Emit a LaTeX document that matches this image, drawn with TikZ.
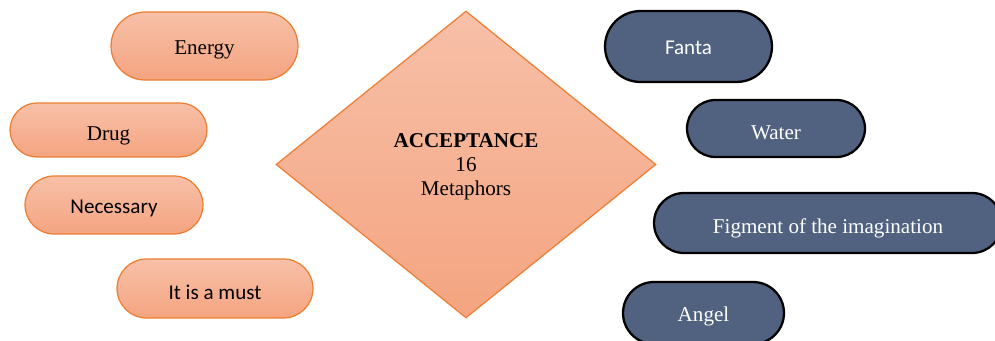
\documentclass[tikz,border=0pt]{standalone}
\usepackage{fontspec}
\setmainfont{Liberation Serif}
\newfontfamily\calibri{Carlito}
\usetikzlibrary{shapes.geometric,shapes.misc}

\definecolor{peachtop}{RGB}{247,192,168}
\definecolor{peachbot}{RGB}{244,164,128}
\definecolor{peachline}{RGB}{237,125,49}
\definecolor{slate}{RGB}{80,98,128}

\tikzset{
	peach/.style={draw=peachline, line width=0.7pt, top color=peachtop, bottom color=peachbot},
	pill/.style={rounded rectangle, inner sep=0pt, text depth=0pt, text height=10pt, font=\fontsize{12}{14}\selectfont},
	warm/.style={pill, peach},
	cool/.style={pill, draw=black, line width=1.3pt, fill=slate, text=white},
}

\begin{document}
\begin{tikzpicture}[x=0.02cm, y=-0.02cm]
		\useasboundingbox (0,0) rectangle (995,341);
		\clip (0,0) rectangle (995,341);

		% Draw the centre diamond
		\node[diamond, peach, minimum width=7.6cm, minimum height=6.14cm, inner sep=0pt, text depth=0pt,
			align=center, font=\fontsize{12}{13.6}\selectfont] (accept) at (466,164.5)
			{\textbf{ACCEPTANCE}\\16\\Metaphors};

		% Draw the pills on the left
		\node[warm, minimum width=3.74cm, minimum height=1.36cm] (energy) at (204.5,46) {Energy};
		\node[warm, minimum width=3.94cm, minimum height=1.08cm, text height=12.4pt] (drug) at (108.5,130) {Drug};
		\node[warm, minimum width=3.56cm, minimum height=1.16cm] (necessary) at (114,205) {\calibri Necessary};
		\node[warm, minimum width=3.92cm, minimum height=1.18cm, text height=12.6pt] (must) at (215,288.5) {\calibri It is a must};

		% Draw the pills on the right
		\node[cool, minimum width=3.34cm, minimum height=1.42cm, text height=8.6pt] (fanta) at (688.5,46.5) {\calibri Fanta};
		\node[cool, minimum width=3.56cm, minimum height=1.14cm, text height=12pt] (water) at (776,128.5) {Water};
		\node[cool, minimum width=6.96cm, minimum height=1.20cm, text height=11.4pt] (figment) at (828,223) {Figment of the imagination};
		\node[cool, minimum width=3.22cm, minimum height=1.24cm] (angel) at (703.5,313) {Angel};

	\end{tikzpicture}
\end{document}
